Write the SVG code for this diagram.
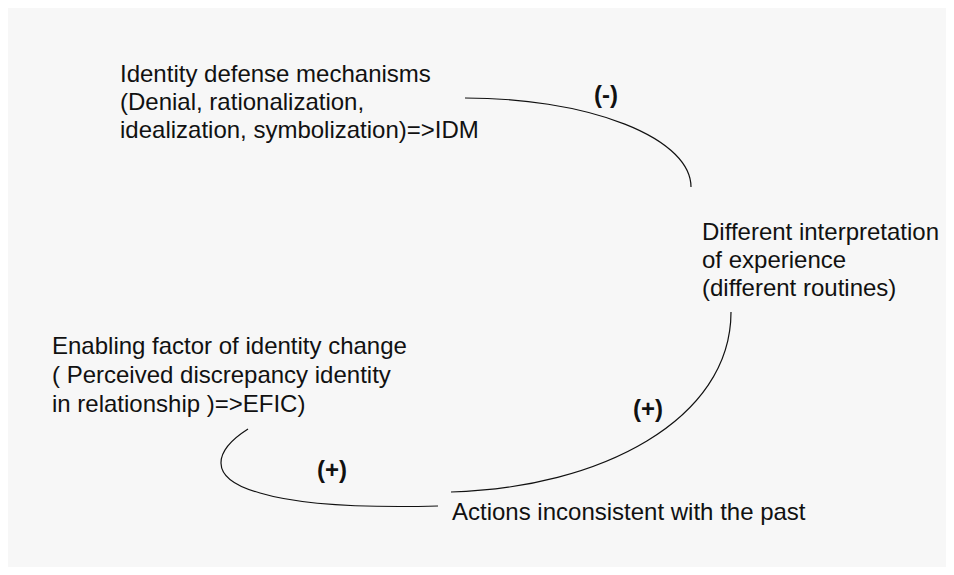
<svg xmlns="http://www.w3.org/2000/svg" width="954" height="575" viewBox="0 0 954 575">
<style>
.t{font-family:"Liberation Sans",Arial,sans-serif;font-size:24px;fill:#111}
.s{font-family:"Liberation Sans",Arial,sans-serif;font-size:24px;font-weight:bold;fill:#111}
.c{fill:none;stroke:#111;stroke-width:1.2}
</style>
<rect x="0" y="0" width="954" height="575" fill="#ffffff"/>
<rect x="8" y="8" width="938" height="559" fill="#f7f7f7"/>
<g id="connectors">
<path class="c" d="M465,98 A226,89 0 0 1 691,187"/>
<path class="c" d="M731,312 C731,420 600,488 451,492"/>
<path class="c" d="M248,429 C215,450 205,478 260,493 C300,505 360,508 438,506"/>
<text class="s" x="594" y="103">(-)</text>
<text class="s" x="633" y="417">(+)</text>
<text class="s" x="317" y="478">(+)</text>
</g>
<g id="IDM">
<text class="t" x="120" y="82">Identity defense mechanisms</text>
<text class="t" x="120" y="110">(Denial, rationalization,</text>
<text class="t" x="120" y="138">idealization, symbolization)=&gt;IDM</text>
</g>
<g id="DIE">
<text class="t" x="702" y="240">Different interpretation</text>
<text class="t" x="702" y="268">of experience</text>
<text class="t" x="702" y="296">(different routines)</text>
</g>
<g id="EFIC">
<text class="t" x="52" y="354">Enabling factor of identity change</text>
<text class="t" x="52" y="383">( Perceived discrepancy identity</text>
<text class="t" x="52" y="412">in relationship )=&gt;EFIC)</text>
</g>
<g id="AICP">
<text class="t" x="452" y="520">Actions inconsistent with the past</text>
</g>
</svg>
